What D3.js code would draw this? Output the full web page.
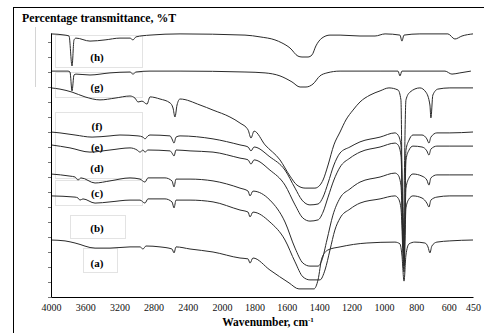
<!DOCTYPE html>
<html lang="en">
<head>
<meta charset="UTF-8">
<title>FTIR spectra (a)-(h)</title>
<script src="https://d3js.org/d3.v7.min.js"></script>
<style>
  body { margin: 0; background: #fff; }
  svg { display: block; }
  text { font-family: "Liberation Serif", "Times New Roman", serif; }
  .spectrum { fill: none; stroke: #2a2a2a; stroke-width: 1px; }
  .box { fill: none; stroke: #e3e3e3; stroke-width: 1px; }
  .lbl { font-size: 11px; font-weight: bold; text-anchor: middle; }
  .x-axis text { font-size: 10px; }
</style>
</head>
<body>
<div id="chart"></div>
<script>
// Each spectrum: [wavenumber (cm-1), %T on the stacked scale]
const specA = [[4000,19],[3836,18.7],[3719,18],[3485,16.3],[3310,16.3],[3076,16.7],[2959,16.7],[2924,16],[2889,17],[2725,16.7],[2585,16],[2561,14.7],[2538,16.7],[2374,16],[2105,15],[1889,13],[1839,12.7],[1827,11.3],[1809,13],[1704,9],[1586,4.7],[1525,2.7],[1432,2.7],[1407,5.7],[1383,13],[1345,15.7],[1271,16.7],[1105,18],[932,18.3],[901,17.7],[889,14],[876,5.3],[864,14],[845,17.7],[809,18.3],[747,18],[728,16.7],[716,14.7],[704,17],[673,18.3],[593,18.7],[450,19]];

const specB = [[4000,33.7],[3719,33.3],[3684,33],[3661,32.3],[3626,32.7],[3485,31.3],[3310,31.7],[3076,32.3],[2959,32.3],[2901,31.3],[2866,32.7],[2667,32.7],[2585,31.7],[2561,29.7],[2538,32.3],[2374,32.3],[2105,31.7],[1889,29],[1839,28.3],[1827,26.7],[1809,28.3],[1704,25],[1611,19],[1549,11.7],[1500,6.7],[1457,5.7],[1395,5.7],[1364,9],[1333,15.7],[1303,22.3],[1271,26.3],[1210,29.3],[1148,31.3],[1024,32.7],[932,33.7],[913,33],[895,29.7],[876,8.3],[864,29.7],[845,32.7],[821,33.7],[765,33],[735,31.3],[722,30],[710,32.3],[673,33.3],[593,33.7],[450,33.7]];

const specC = [[4000,41],[3778,40.3],[3719,40],[3684,39],[3649,39.7],[3485,38],[3310,38.7],[3076,39.7],[2959,39.3],[2901,38.3],[2866,39.7],[2667,39.7],[2585,38.7],[2561,36.7],[2538,39.3],[2374,39.3],[2105,38.7],[1889,36.3],[1839,35.3],[1827,33.7],[1809,35.3],[1704,32.3],[1611,25],[1549,16.3],[1500,11.3],[1457,10.3],[1407,10.3],[1383,12.3],[1352,19],[1315,27.3],[1271,33],[1210,36],[1148,38.3],[1024,40],[932,41.3],[913,40.7],[895,37.3],[876,10.3],[864,36.3],[845,39.7],[821,41],[765,40.3],[735,39],[722,37.3],[710,39.7],[673,40.7],[593,40.7],[450,40.7]];

const specD = [[4000,50.7],[3778,49.7],[3544,48.3],[3310,49],[3076,49.7],[2994,49],[2959,48.3],[2924,49],[2901,48.3],[2866,49],[2608,48.7],[2585,48],[2561,47],[2538,49],[2374,48.7],[2105,48.3],[1889,46.3],[1839,45.7],[1821,44.3],[1802,45.7],[1704,42.3],[1611,37.3],[1549,30.7],[1500,26.3],[1457,25.3],[1407,25.7],[1376,28.3],[1345,33.3],[1309,39],[1271,43.3],[1210,46.3],[1148,48.3],[1024,50],[932,51.3],[913,50.7],[895,47.3],[876,13],[864,45.7],[845,49],[821,50.3],[765,50],[735,48.7],[722,47.3],[710,49.3],[673,50.3],[593,50.3],[450,50.3]];

const specE = [[4000,55],[3895,54.7],[3719,54],[3520,53.3],[3310,53.7],[3193,54],[2982,53.7],[2924,53.3],[2901,52.7],[2866,53.7],[2842,54],[2608,53.7],[2585,52.7],[2561,51.3],[2538,53.3],[2491,53.7],[2105,52.7],[1889,50.7],[1839,50],[1821,48.7],[1802,50],[1704,46.7],[1611,42.3],[1549,36.3],[1506,32.3],[1457,30.7],[1407,31],[1376,33.3],[1345,38],[1309,44],[1271,48],[1210,50],[1148,51.7],[1024,53.3],[932,54.7],[913,54],[895,50.7],[876,15],[864,49],[845,52.3],[821,54],[765,54],[735,52.7],[722,51.3],[710,53.3],[673,54.7],[593,54.7],[450,55]];

const specF = [[4000,69.7],[3895,69.3],[3754,68.3],[3602,66.7],[3427,65.7],[3251,66.3],[3076,67],[3018,66.3],[2982,65],[2936,65.3],[2877,64.3],[2842,66.7],[2725,66],[2608,64.7],[2573,63],[2550,60],[2526,64],[2491,66],[2257,64],[2105,62.3],[1951,60],[1889,58],[1839,55.7],[1821,53],[1802,55.3],[1734,50.7],[1642,45.7],[1580,40.3],[1537,37.3],[1487,36.3],[1426,36.3],[1395,37.3],[1376,39],[1345,44],[1309,50.7],[1271,55],[1235,59],[1191,62.3],[1148,65],[1086,67.3],[1024,68.7],[969,69.7],[913,69],[895,65.7],[883,17.3],[864,65.7],[839,68.3],[778,69.7],[741,68.3],[716,64],[710,59.7],[698,67.3],[667,69.3],[593,69.7],[450,69.7]];

const specG = [[4000,75.3],[3801,75.3],[3778,75],[3754,68.7],[3731,74],[3708,74.3],[3544,74],[3310,74.7],[3076,75],[3041,74.3],[3006,75],[2842,75.3],[2491,75.3],[1858,75],[1734,74.7],[1642,73.7],[1568,71.7],[1518,70],[1481,70],[1438,71],[1395,73.7],[1352,74.7],[1271,75.3],[1024,75.3],[913,75.3],[901,73.7],[889,75.3],[623,75.3],[580,74.3],[531,74.7],[463,75.3]];

const specH = [[4000,87.7],[3836,87.3],[3789,87],[3754,77],[3731,85.7],[3708,86.3],[3544,85.3],[3368,85.7],[3193,86.3],[3076,86.3],[3041,85.7],[3006,86.7],[2842,87.3],[2491,87.7],[1858,87.3],[1765,86.7],[1673,85.7],[1630,84.7],[1580,83],[1531,80.3],[1506,80],[1469,80],[1444,80.7],[1420,83.7],[1383,86.3],[1333,87.3],[1271,87.3],[1148,87],[1055,87],[993,87.7],[901,87.3],[889,85.3],[876,87.3],[778,87.7],[605,87.7],[562,86],[518,87],[450,87.7]];

const seriesNames = ["(a)", "(b)", "(c)", "(d)", "(e)", "(f)", "(g)", "(h)"];
const seriesValues = [specA, specB, specC, specD, specE, specF, specG, specH];

const xTicks = [4000, 3600, 3200, 2800, 2400, 2000, 1800, 1600, 1400, 1200, 1000, 800, 600, 450];
const yTicks = d3.range(0, 90, 5);

// layout (pixels)
const width = 484, height = 333;
const plot = { left: 51, right: 473, top: 33, bottom: 297 };
const labelPos = [[97, 263], [97, 228], [97, 193], [97, 168], [97, 147], [97, 126], [97, 87], [97, 57]];
const boxes = [[55, 35, 87, 32], [55, 72, 87, 25], [55, 112, 87, 66], [55, 180, 87, 25], [70, 215, 55, 23], [83, 248, 34, 24]];

const svg = d3.select("#chart").append("svg")
    .attr("width", width)
    .attr("height", height);

// outer frame (cropped on the right and bottom in the original)
svg.append("rect")
    .attr("x", 13.5).attr("y", 7.5)
    .attr("width", 500).attr("height", 400)
    .attr("fill", "none").attr("stroke", "#000").attr("stroke-width", 1);

// faint leftovers from the original layout
svg.append("line")
    .attr("x1", 35.5).attr("x2", 35.5).attr("y1", 27).attr("y2", 87)
    .attr("stroke", "#d4d4d4");

svg.append("g").selectAll("rect")
    .data(boxes)
    .enter().append("rect")
    .attr("class", "box")
    .attr("x", d => d[0] + 0.5).attr("y", d => d[1] + 0.5)
    .attr("width", d => d[2]).attr("height", d => d[3]);

// wavenumber axis: expanded 2x below 2000 cm-1
const x = d3.scaleLinear()
    .domain([4000, 2000, 450])
    .range([plot.left, 222, plot.right]);

const y = d3.scaleLinear()
    .domain([0, 88])
    .range([plot.bottom, plot.top]);

const line = d3.line()
    .x(d => x(d[0]))
    .y(d => y(d[1]))
    .curve(d3.curveMonotoneX);

svg.append("g")
    .selectAll("path")
    .data(seriesValues)
    .enter().append("path")
    .attr("class", "spectrum")
    .attr("d", line);

// axes
const xAxis = svg.append("g")
    .attr("class", "x-axis")
    .attr("transform", `translate(0,${plot.bottom})`)
    .call(d3.axisBottom(x).tickValues(xTicks).tickFormat(d3.format("d")).tickSize(0).tickSizeOuter(0).tickPadding(7));
xAxis.attr("font-family", null).attr("font-size", null);
xAxis.select(".domain").attr("stroke", "#000");
xAxis.selectAll("text").attr("fill", "#111");

const yAxis = svg.append("g")
    .attr("transform", `translate(${plot.left},0)`)
    .call(d3.axisLeft(y).tickValues(yTicks).tickFormat("").tickSize(3).tickSizeOuter(0));
yAxis.select(".domain").attr("stroke", "#000");
yAxis.selectAll(".tick line").attr("stroke", "#777");

// series labels
svg.append("g")
    .selectAll("text")
    .data(seriesNames)
    .enter().append("text")
    .attr("class", "lbl")
    .attr("x", (d, i) => labelPos[i][0])
    .attr("y", (d, i) => labelPos[i][1] + 4)
    .text(d => d);

// titles
svg.append("text")
    .attr("x", 22).attr("y", 22)
    .attr("font-size", 11.8).attr("font-weight", "bold")
    .text("Percentage transmittance, %T");

const xt = svg.append("text")
    .attr("x", 268).attr("y", 326)
    .attr("text-anchor", "middle")
    .attr("font-size", 11.5).attr("font-weight", "bold")
    .text("Wavenumber, cm");
xt.append("tspan")
    .attr("font-size", 7).attr("dy", -4)
    .text("-1");
</script>
</body>
</html>
